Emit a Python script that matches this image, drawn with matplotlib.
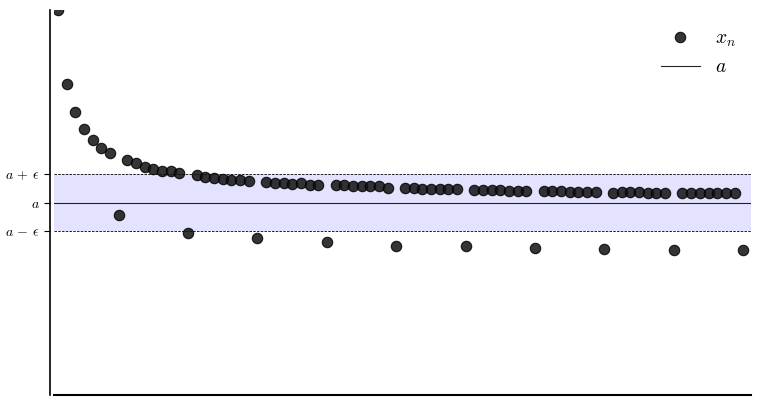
import numpy as np
import matplotlib
matplotlib.use('Agg')
import matplotlib.pyplot as plt

plt.rcParams['mathtext.fontset'] = 'cm'
plt.rcParams['font.family'] = ['DejaVu Serif']

# sequence x_n (a = 0, epsilon = 1)
n = np.arange(1, 81)
x_n = [6.80, 4.20, 3.18, 2.58, 2.20, 1.93, 1.76, -0.43,
       1.49, 1.39, 1.27, 1.19, 1.13, 1.10, 1.03, -1.06,
       0.97, 0.91, 0.86, 0.83, 0.79, 0.79, 0.76, -1.27,
       0.74, 0.70, 0.70, 0.67, 0.68, 0.63, 0.63, -1.41,
       0.61, 0.61, 0.57, 0.57, 0.57, 0.57, 0.52, -1.52,
       0.52, 0.52, 0.48, 0.48, 0.48, 0.48, 0.48, -1.55,
       0.44, 0.44, 0.44, 0.44, 0.40, 0.40, 0.40, -1.62,
       0.40, 0.40, 0.40, 0.37, 0.37, 0.37, 0.37, -1.65,
       0.35, 0.37, 0.37, 0.37, 0.35, 0.35, 0.35, -1.68,
       0.35, 0.35, 0.35, 0.35, 0.35, 0.35, 0.35, -1.68]
a = 0.0
eps = 1.0
tick_vals = [a - eps, a, a + eps]
tick_labels = [r'$a\,-\,\epsilon$', r'$a$', r'$a\,+\,\epsilon$']

fig = plt.figure(figsize=(7.61, 4.05), dpi=100)
ax = fig.add_axes([54/761, 10/405, 697/761, 385/405])

ax.axhspan(a - eps, a + eps, color='blue', alpha=0.11, lw=0)
ax.axhline(a + eps, color='k', ls='--', lw=0.6, dashes=(3, 1.5))
ax.axhline(a - eps, color='k', ls='--', lw=0.6, dashes=(3, 1.5))
ax.axhline(a, color='k', lw=0.8, alpha=0.85, label=r'$a$')

ax.plot(n, x_n, 'o', color='#111111', alpha=0.85, markersize=7.5,
        markeredgecolor='#000000', markeredgewidth=0.8, label=r'$x_n$')

ax.set_xlim(0.54, 80.9)
ax.set_ylim(-6.8, 6.8)
ax.set_yticks(tick_vals)
ax.set_yticklabels(tick_labels, fontsize=11.5)
ax.set_xticks([])

ax.spines['top'].set_visible(False)
ax.spines['right'].set_visible(False)
ax.spines['left'].set_position(('outward', 3))
ax.spines['left'].set_linewidth(1.2)
ax.spines['bottom'].set_linewidth(1.5)
ax.tick_params(axis='y', length=4.5, width=0.8, pad=3)

h, l = ax.get_legend_handles_labels()
ax.legend(h[::-1], l[::-1], loc='upper right', frameon=False, fontsize=14,
          bbox_to_anchor=(1.004, 0.995))

fig.savefig('out.png', dpi=100)
